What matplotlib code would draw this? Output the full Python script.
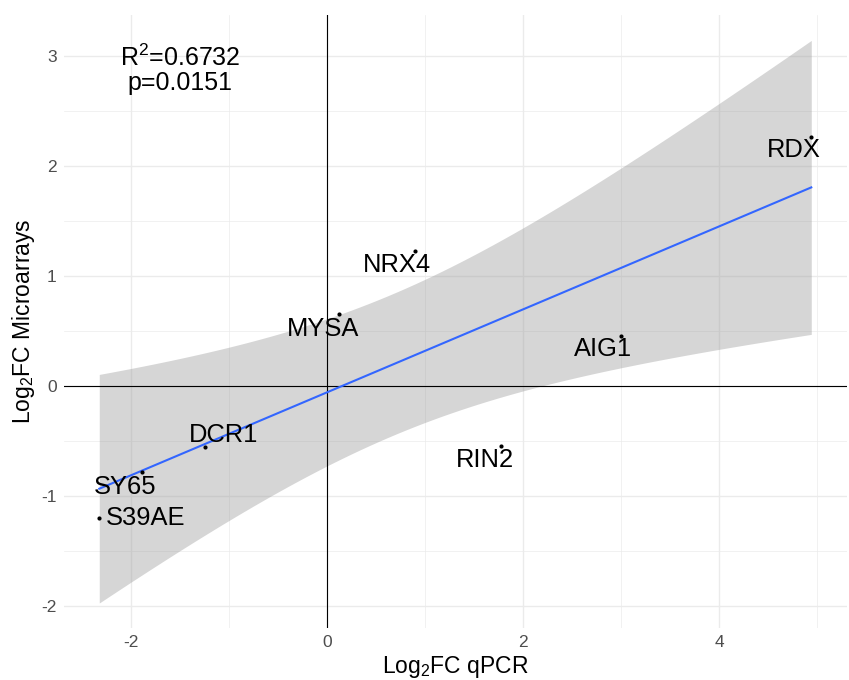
import matplotlib
matplotlib.use('Agg')
import matplotlib.pyplot as plt
import numpy as np

plt.rcParams['font.family'] = ['Liberation Sans', 'DejaVu Sans']
plt.rcParams['mathtext.fontset'] = 'custom'
plt.rcParams['mathtext.rm'] = 'Liberation Sans'
plt.rcParams['mathtext.it'] = 'Liberation Sans:italic'
plt.rcParams['axes.unicode_minus'] = False

# data
genes = ['RDX', 'NRX4', 'MYSA', 'AIG1', 'DCR1', 'RIN2', 'SY65', 'S39AE']
qpcr = np.array([4.937, 0.893, 0.122, 2.993, -1.245, 1.770, -1.893, -2.325])
micro = np.array([2.264, 1.222, 0.652, 0.455, -0.560, -0.545, -0.787, -1.200])
r2_text = 'R$^2$=0.6732'
p_text = 'p=0.0151'

# label nudges in pixels (dx, dy)
nudges = {'RDX': (-17, -13), 'NRX4': (-18, -14), 'MYSA': (-16, -15), 'AIG1': (-18, -13),
          'DCR1': (18, 12), 'RIN2': (-16, -14), 'SY65': (-17, -15), 'S39AE': (7, 0)}

# linear fit + 95% CI like geom_smooth(method='lm')
n = len(qpcr)
slope, icpt = np.polyfit(qpcr, micro, 1)
xs = np.linspace(qpcr.min(), qpcr.max(), 80)
yhat = icpt + slope * xs
resid = micro - (icpt + slope * qpcr)
s = np.sqrt(np.sum(resid ** 2) / (n - 2))
sxx = np.sum((qpcr - qpcr.mean()) ** 2)
se = s * np.sqrt(1.0 / n + (xs - qpcr.mean()) ** 2 / sxx)
t = 2.446912  # t(0.975, df=6)

fig = plt.figure(figsize=(8.49, 6.8), dpi=100)
ax = fig.add_axes([0.075, 0.077, 0.9225, 0.901])

ax.fill_between(xs, yhat - t * se, yhat + t * se, color='#999999', alpha=0.4,
                linewidth=0, zorder=2)
ax.axhline(0, color='black', lw=0.8, zorder=3)
ax.axvline(0, color='black', lw=0.8, zorder=3)
ax.plot(xs, yhat, color='#3366FF', lw=1.5, zorder=4)
ax.scatter(qpcr, micro, s=9, color='black', zorder=5, linewidths=0)

for g, xv, yv in zip(genes, qpcr, micro):
    dx, dy = nudges[g]
    ha = 'left' if g == 'S39AE' else 'center'
    ax.annotate(g, (xv, yv), xytext=(dx, dy), textcoords='offset pixels',
                ha=ha, va='center', fontsize=18.4, color='black', zorder=6)

ax.text(-1.50, 2.98, r2_text, ha='center', va='center', fontsize=18)
ax.text(-1.50, 2.75, p_text, ha='center', va='center', fontsize=18)

ax.set_xlim(-2.688, 5.30)
ax.set_ylim(-2.2, 3.37)
ax.set_xticks([-2, 0, 2, 4])
ax.set_yticks([-2, -1, 0, 1, 2, 3])
ax.set_xticks([-1, 1, 3, 5], minor=True)
ax.set_yticks([-1.5, -0.5, 0.5, 1.5, 2.5], minor=True)
ax.grid(which='major', color='#EBEBEB', lw=1.0, zorder=0)
ax.grid(which='minor', color='#EBEBEB', lw=0.5, zorder=0)
ax.set_axisbelow(True)
ax.tick_params(which='both', length=0, labelsize=12.5, labelcolor='#4D4D4D', pad=5)
for sp in ax.spines.values():
    sp.set_visible(False)

ax.set_xlabel('Log$_2$FC qPCR', fontsize=16.5, labelpad=3)
ax.set_ylabel('Log$_2$FC Microarrays', fontsize=16.5, labelpad=3)

fig.savefig('out.png', dpi=100, facecolor='white')
